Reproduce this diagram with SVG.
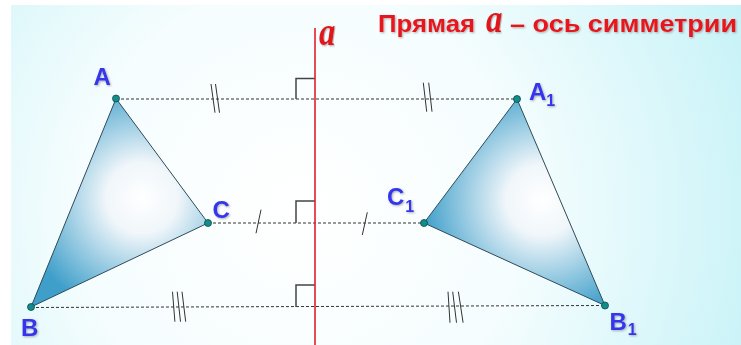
<svg xmlns="http://www.w3.org/2000/svg" width="741" height="345" viewBox="0 0 741 345">
<defs>
<radialGradient id="bg" gradientUnits="userSpaceOnUse" cx="300" cy="210" r="500">
<stop offset="0" stop-color="#ffffff"/>
<stop offset="0.45" stop-color="#f5fdfe"/>
<stop offset="1" stop-color="#c4f2f7"/>
</radialGradient>
<radialGradient id="triL" gradientUnits="userSpaceOnUse" cx="142" cy="198" r="120">
<stop offset="0" stop-color="#ffffff"/>
<stop offset="0.3" stop-color="#f0f6fa"/>
<stop offset="1" stop-color="#3f9fca"/>
</radialGradient>
<radialGradient id="triR" gradientUnits="userSpaceOnUse" cx="542" cy="200" r="120">
<stop offset="0" stop-color="#ffffff"/>
<stop offset="0.3" stop-color="#f0f6fa"/>
<stop offset="1" stop-color="#3f9fca"/>
</radialGradient>
<filter id="sh" x="-50%" y="-50%" width="200%" height="200%">
<feDropShadow dx="1" dy="1" stdDeviation="0.8" flood-color="#777" flood-opacity="0.6"/>
</filter>
</defs>
<style>
.lbl{font-family:"Liberation Sans",Arial,sans-serif;font-weight:bold;font-size:24px;fill:#3535ee;filter:url(#sh)}
.sub{font-size:16px}
.title{font-family:"Liberation Sans",Arial,sans-serif;font-weight:bold;font-size:23px;fill:#e8121c;filter:url(#sh)}
.ital{font-family:"Liberation Serif","Times New Roman",serif;font-style:italic;font-weight:bold;font-size:40px;fill:#e0121c;filter:url(#sh)}
.dash{stroke:#333;stroke-width:1;stroke-dasharray:3 2;fill:none}
.tick{stroke:#333;stroke-width:1;fill:none}
.ra{stroke:#444;stroke-width:1.5;fill:none}
.tri{stroke:#2f4a58;stroke-width:1}
.pt{fill:#138c8c;stroke:#0d4a4a;stroke-width:0.8}
</style>
<rect x="0" y="0" width="741" height="345" fill="#ffffff"/>
<rect x="11" y="5" width="730" height="340" fill="url(#bg)"/>

<g id="title">
<text class="title" x="378" y="32" textLength="97" lengthAdjust="spacingAndGlyphs">Прямая</text>
<text class="ital" transform="translate(486,32) scale(0.82,1)" x="0" y="0">a</text>
<text class="title" x="510" y="32" textLength="227" lengthAdjust="spacingAndGlyphs">– ось симметрии</text>
</g>

<g id="triangle-ABC">
<polygon class="tri" points="116,98.5 31,307 208,223" fill="url(#triL)"/>
</g>
<g id="triangle-A1B1C1">
<polygon class="tri" points="517,99 605,305.5 424,223" fill="url(#triR)"/>
</g>

<g id="connectors">
<line class="dash" x1="116" y1="99" x2="517" y2="99"/>
<line class="dash" x1="208" y1="223" x2="424" y2="223"/>
<line class="dash" x1="31" y1="307.5" x2="605" y2="305.5"/>
<path class="ra" d="M296,99 V78.5 H315"/>
<path class="ra" d="M296,223 V201 H315"/>
<path class="ra" d="M296,307 V285 H315"/>
<path class="tick" d="M211,84 L215,112.7 M215.5,84 L219.5,112.7"/>
<path class="tick" d="M423.3,82.7 L426.7,111.7 M428.7,82.7 L432,111.7"/>
<path class="tick" d="M261,209.7 L256,233.3"/>
<path class="tick" d="M367.3,212.3 L362.3,235"/>
<path class="tick" d="M172.5,291.7 L174.9,321.7 M177.2,291.7 L180.5,321.7 M182,291.7 L185.7,321.7"/>
<path class="tick" d="M448,291.7 L450,322.7 M452.7,291.7 L456.5,322.7 M458.4,291.7 L463.1,322.7"/>
</g>

<g id="axis">
<line x1="315" y1="28" x2="315" y2="345" stroke="#e0202a" stroke-width="1.6"/>
<text class="ital" transform="translate(319,45) scale(0.82,1)" x="0" y="0">a</text>
</g>

<g id="point-A"><circle class="pt" cx="116" cy="98.5" r="3.5"/><text class="lbl" x="93.5" y="84.5">A</text></g>
<g id="point-B"><circle class="pt" cx="31" cy="307" r="3.5"/><text class="lbl" x="21" y="336">B</text></g>
<g id="point-C"><circle class="pt" cx="208" cy="223" r="3.5"/><text class="lbl" x="212.5" y="218">C</text></g>
<g id="point-A1"><circle class="pt" cx="517" cy="99" r="3.5"/><text class="lbl" x="529" y="99.5">A<tspan class="sub" dy="6.5">1</tspan></text></g>
<g id="point-B1"><circle class="pt" cx="605" cy="305.5" r="3.5"/><text class="lbl" x="609.5" y="330">B<tspan class="sub" dx="1" dy="5">1</tspan></text></g>
<g id="point-C1"><circle class="pt" cx="424" cy="223" r="3.5"/><text class="lbl" x="387" y="205">C<tspan class="sub" dx="1" dy="6.5">1</tspan></text></g>
</svg>
